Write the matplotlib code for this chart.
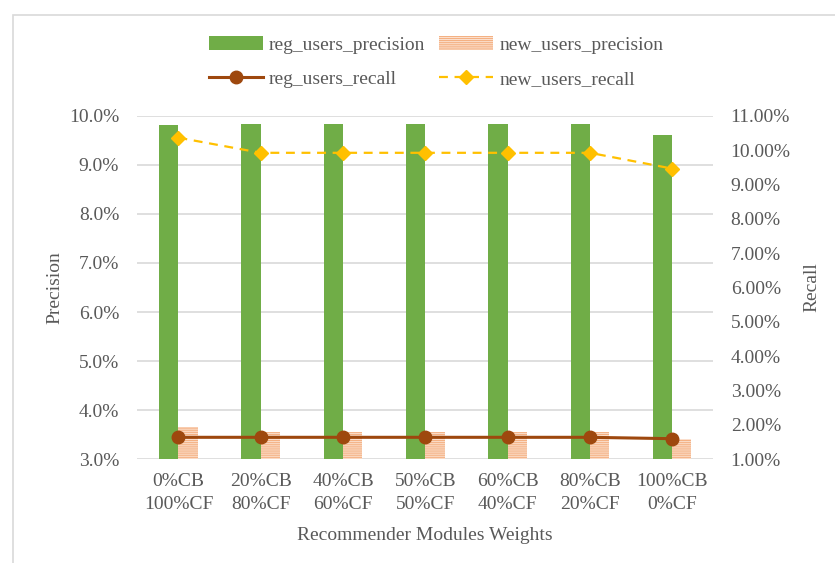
import matplotlib
matplotlib.use("Agg")
import matplotlib.pyplot as plt
import numpy as np
from matplotlib.patches import Rectangle
from matplotlib.ticker import FuncFormatter, MultipleLocator

categories = ["0%CB\n100%CF", "20%CB\n80%CF", "40%CB\n60%CF", "50%CB\n50%CF",
              "60%CB\n40%CF", "80%CB\n20%CF", "100%CB\n0%CF"]
reg_users_precision = [9.81, 9.83, 9.83, 9.83, 9.83, 9.83, 9.60]
new_users_precision = [3.66, 3.55, 3.55, 3.55, 3.55, 3.55, 3.41]
reg_users_recall = [1.64, 1.64, 1.64, 1.64, 1.64, 1.64, 1.60]
new_users_recall = [10.36, 9.92, 9.92, 9.92, 9.92, 9.92, 9.46]

plt.rcParams['font.family'] = ['Liberation Serif', 'DejaVu Serif']
plt.rcParams['hatch.linewidth'] = 0.9
TXT = '#595959'
FS = 14

fig = plt.figure(figsize=(8.35, 5.63), dpi=100)
# chart border (only top and left edges visible in the frame)
fig.patches.append(Rectangle((13/835, -0.2), 1.2, 1.2 - 15/563, transform=fig.transFigure,
                             fill=False, edgecolor='#D9D9D9', linewidth=1.2))

ax1 = fig.add_axes([137.3/835, 103.7/563, 576/835, 343.6/563])
x = np.arange(len(categories))
w = 0.235
b1 = ax1.bar(x - w/2, [v - 3 for v in reg_users_precision], w, bottom=3,
             color='#70AD47', linewidth=0, label='reg_users_precision', zorder=2)
b2 = ax1.bar(x + w/2, [v - 3 for v in new_users_precision], w, bottom=3,
             facecolor='#FDE9DC', edgecolor='#F4B183', hatch='--------',
             linewidth=0, label='new_users_precision', zorder=2)
ax1.set_ylim(3, 10)
ax1.set_xlim(-0.5, len(categories) - 0.5)
ax1.yaxis.set_major_locator(MultipleLocator(1))
ax1.yaxis.set_major_formatter(FuncFormatter(lambda v, p: f"{v:.1f}%"))
ax1.grid(axis='y', color='#D9D9D9', linewidth=1.2, zorder=0)
ax1.set_axisbelow(True)
ax1.set_xticks(x)
ax1.set_xticklabels(categories, linespacing=1.45)
ax1.tick_params(axis='y', length=0, pad=13, labelsize=FS, labelcolor=TXT)
ax1.tick_params(axis='x', length=0, pad=10, labelsize=FS, labelcolor=TXT)
for s in ax1.spines.values():
    s.set_visible(False)
ax1.set_ylabel('Precision', fontsize=FS, color=TXT, labelpad=4)
ax1.set_xlabel('Recommender Modules Weights', fontsize=FS, color=TXT, labelpad=10)

ax2 = ax1.twinx()
l1, = ax2.plot(x, reg_users_recall, color='#9E480E', linewidth=2.2, marker='o',
               markersize=9, label='reg_users_recall', zorder=3)
l2, = ax2.plot(x, new_users_recall, color='#FFC000', linewidth=1.6, linestyle=(0, (4, 3)),
               marker='D', markersize=7.5, label='new_users_recall', zorder=3)
ax2.set_ylim(1, 11)
ax2.yaxis.set_major_locator(MultipleLocator(1))
ax2.yaxis.set_major_formatter(FuncFormatter(lambda v, p: f"{v:.2f}%"))
ax2.tick_params(axis='y', length=0, pad=12.5, labelsize=FS, labelcolor=TXT)
for s in ax2.spines.values():
    s.set_visible(False)
ax2.set_ylabel('Recall', fontsize=FS, color=TXT, rotation=90, labelpad=9)

leg = fig.legend([b1, l1, b2, l2],
                 ['reg_users_precision', 'reg_users_recall', 'new_users_precision', 'new_users_recall'],
                 ncol=2, loc='center', bbox_to_anchor=(436/835, 1 - 62/563),
                 frameon=False, fontsize=FS, handlelength=2.8, handletextpad=0.3,
                 columnspacing=0.7, labelspacing=0.85)
for t in leg.get_texts():
    t.set_color(TXT)

fig.savefig('out.png', dpi=100)
